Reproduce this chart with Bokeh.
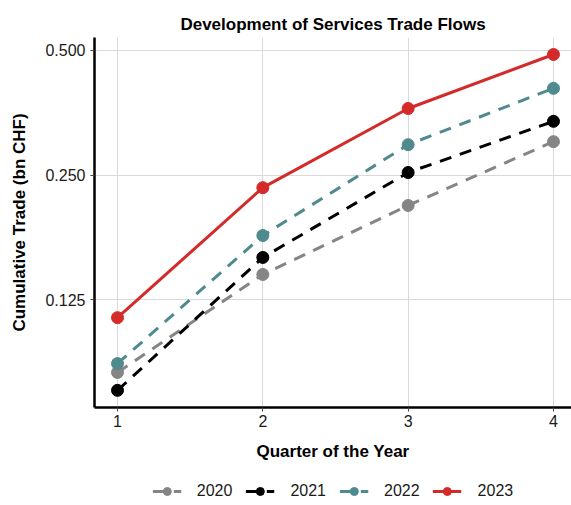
from bokeh.plotting import figure
from bokeh.layouts import column
from bokeh.models import (Range1d, FixedTicker, PrintfTickFormatter, Legend, LegendItem)
from bokeh.embed import file_html
from bokeh.resources import INLINE

quarters = [1, 2, 3, 4]
years = ["2020", "2021", "2022", "2023"]
v2020 = [0.0833, 0.1437, 0.211, 0.301]
v2021 = [0.0754, 0.158, 0.2535, 0.337]
v2022 = [0.0875, 0.1785, 0.296, 0.405]
v2023 = [0.113, 0.233, 0.362, 0.489]
y_ticks = [0.125, 0.25, 0.5]

colors = ["#858585", "#000000", "#4F8A8E", "#D42A2A"]
dashes = ["dashed", "dashed", "dashed", "solid"]
series = [v2020, v2021, v2022, v2023]

FONT = "Liberation Sans"

p = figure(frame_width=477, frame_height=370, output_backend="svg", toolbar_location=None,
           y_axis_type="log",
           x_range=Range1d(0.8417, 4.124), y_range=Range1d(0.06853, 0.5375),
           min_border_left=94, min_border_right=0, min_border_top=37,
           min_border_bottom=70)
p.outline_line_color = None

p.title.text = "Development of Services Trade Flows"
p.title.text_font = FONT
p.title.text_font_size = "17px"
p.title.text_font_style = "bold"
p.title.text_color = "black"
p.title.align = "center"
p.title.standoff = 7

# separate strip below the chart that holds the legend
p2 = figure(frame_width=477, frame_height=28, output_backend="svg", toolbar_location=None,
            x_range=Range1d(100, 101), y_range=Range1d(100, 101),
            x_axis_location=None, y_axis_location=None,
            min_border_left=94, min_border_right=0, min_border_top=0,
            min_border_bottom=0)
p2.outline_line_color = None
p2.grid.grid_line_color = None

items = []
for yr, vals, c, d in zip(years, series, colors, dashes):
    dash = "12 9" if d == "dashed" else "solid"
    p.line(quarters, vals, line_color=c, line_width=3, line_dash=dash)
    p.scatter(quarters, vals, size=12, fill_color=c, line_color=c)
    ln2 = p2.line(quarters, vals, line_color=c, line_width=3, line_dash=dash)
    sc2 = p2.scatter(quarters, vals, size=12, fill_color=c, line_color=c)
    items.append(LegendItem(label=yr, renderers=[ln2, sc2]))

p.xaxis.ticker = FixedTicker(ticks=quarters)
p.yaxis.ticker = FixedTicker(ticks=y_ticks)
p.yaxis.formatter = PrintfTickFormatter(format="%.3f")

for ax in (p.xaxis, p.yaxis):
    ax.axis_line_width = 2.5
    ax.axis_line_color = "black"
    ax.major_tick_line_color = "#444444"
    ax.major_tick_in = 0
    ax.major_tick_out = 4
    ax.minor_tick_line_color = None
    ax.major_label_text_font = FONT
    ax.major_label_text_font_size = "16px"
    ax.major_label_text_color = "#1a1a1a"
    ax.axis_label_text_font = FONT
    ax.axis_label_text_font_size = "17px"
    ax.axis_label_text_font_style = "bold"
    ax.axis_label_text_color = "black"

p.yaxis.axis_label = "Cumulative Trade (bn CHF)"
p.yaxis.major_label_standoff = 5
p.yaxis.axis_label_standoff = 13
p.xaxis.axis_label = "Quarter of the Year"
p.xaxis.major_label_standoff = 3
p.xaxis.axis_label_standoff = 12

for g in (p.xgrid, p.ygrid):
    g.grid_line_color = "#D9D9D9"
    g.grid_line_width = 1

legend = Legend(items=items, orientation="horizontal", location="center",
                glyph_width=29, label_standoff=16, spacing=13,
                label_text_font=FONT, label_text_font_size="16px",
                label_text_color="#1a1a1a", border_line_color=None,
                background_fill_alpha=0, padding=0, margin=0)
p2.add_layout(legend, "center")

layout = column(p, p2, spacing=0)
open("out.html", "w").write(file_html(layout, INLINE))
